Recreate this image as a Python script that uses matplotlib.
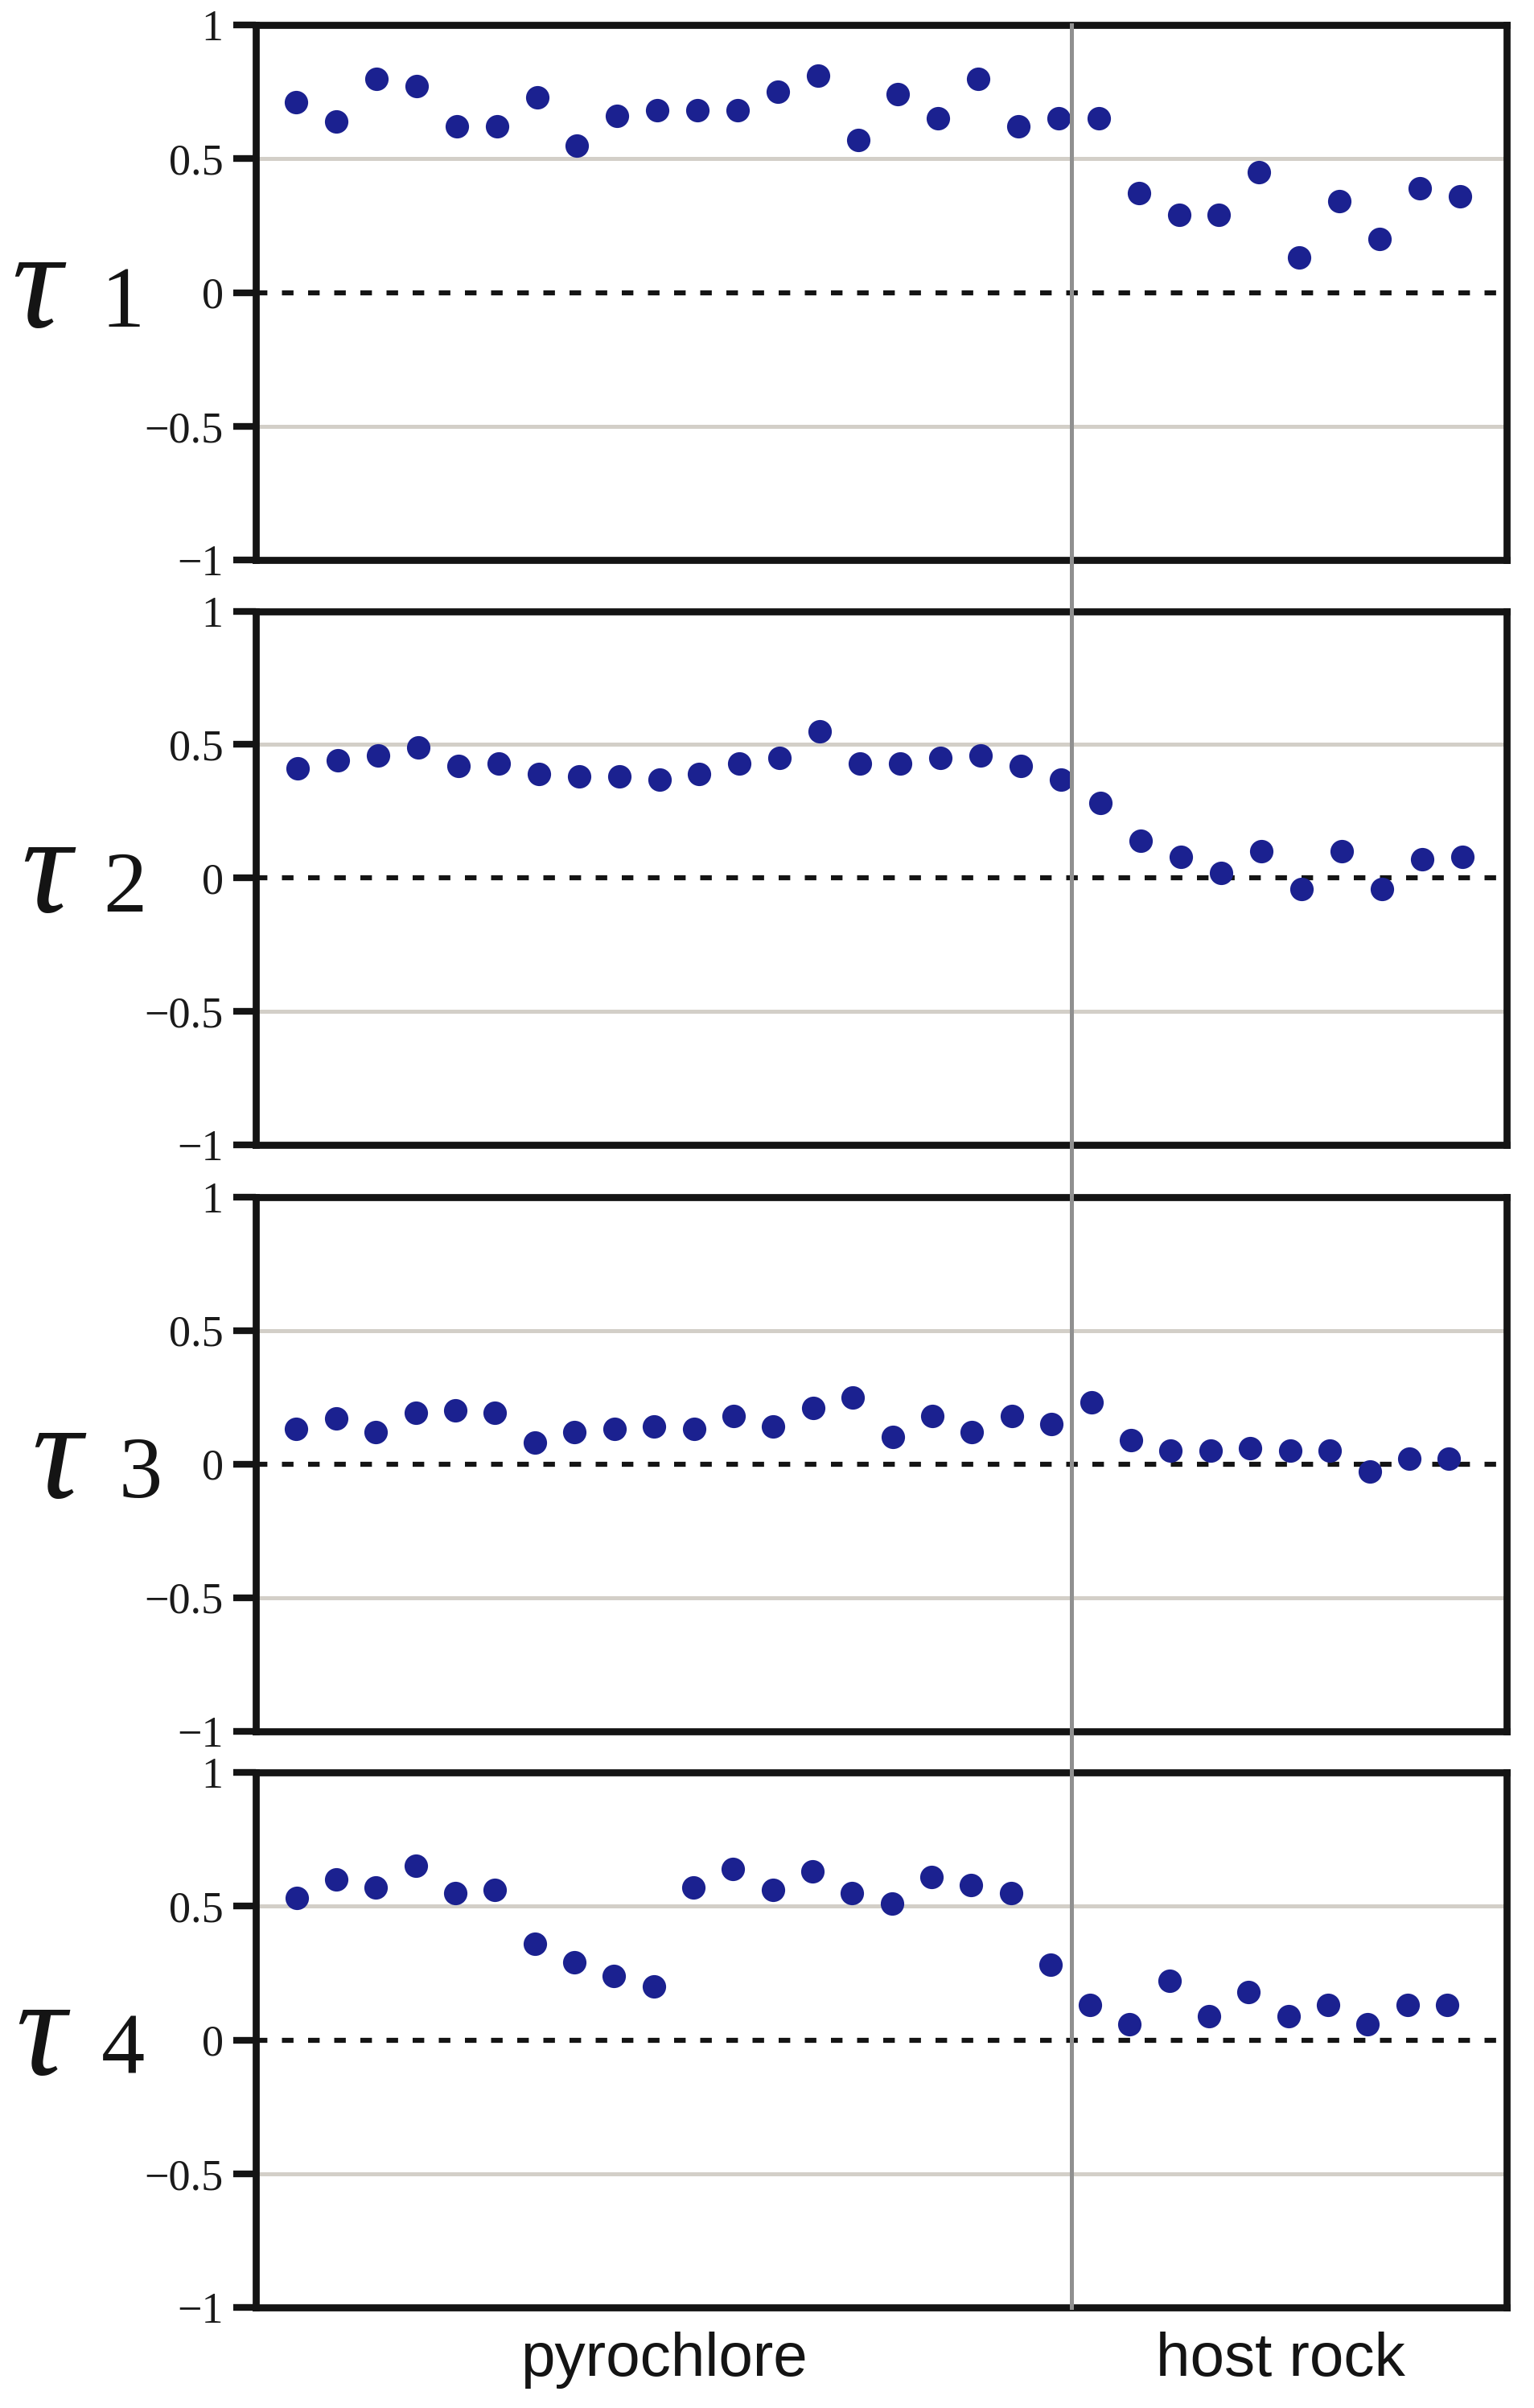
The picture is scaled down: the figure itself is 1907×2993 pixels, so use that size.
import numpy as np
import matplotlib.pyplot as plt
from matplotlib.lines import Line2D
import matplotlib.transforms as mtransforms

# data
sample_no = np.arange(1, 31)
tau1 = [0.71, 0.64, 0.80, 0.77, 0.62, 0.62, 0.73, 0.55, 0.66, 0.68,
        0.68, 0.68, 0.75, 0.81, 0.57, 0.74, 0.65, 0.80, 0.62, 0.65,
        0.65, 0.37, 0.29, 0.29, 0.45, 0.13, 0.34, 0.20, 0.39, 0.36]
tau2 = [0.41, 0.44, 0.46, 0.49, 0.42, 0.43, 0.39, 0.38, 0.38, 0.37,
        0.39, 0.43, 0.45, 0.55, 0.43, 0.43, 0.45, 0.46, 0.42, 0.37,
        0.28, 0.14, 0.08, 0.02, 0.10, -0.04, 0.10, -0.04, 0.07, 0.08]
tau3 = [0.13, 0.17, 0.12, 0.19, 0.20, 0.19, 0.08, 0.12, 0.13, 0.14,
        0.13, 0.18, 0.14, 0.21, 0.25, 0.10, 0.18, 0.12, 0.18, 0.15,
        0.23, 0.09, 0.05, 0.05, 0.06, 0.05, 0.05, -0.03, 0.02, 0.02]
tau4 = [0.53, 0.60, 0.57, 0.65, 0.55, 0.56, 0.36, 0.29, 0.24, 0.20,
        0.57, 0.64, 0.56, 0.63, 0.55, 0.51, 0.61, 0.58, 0.55, 0.28,
        0.13, 0.06, 0.22, 0.09, 0.18, 0.09, 0.13, 0.06, 0.13, 0.13]
series = [tau1, tau2, tau3, tau4]
panel_names = ["1", "2", "3", "4"]
boundary_x = 20.32   # pyrochlore / host rock
yticks = [-1, -0.5, 0, 0.5, 1]
ytick_labels = ["\u22121", "\u22120.5", "0", "0.5", "1"]
group_labels = ["pyrochlore", "host rock"]

dot_color = "#1b2190"
grid_color = "#d3cfc8"
line_gray = "#909090"

plt.rcParams['font.family'] = ['Liberation Serif', 'DejaVu Serif']
plt.rcParams['axes.linewidth'] = 6.3

W, H = 1907, 2993
fig = plt.figure(figsize=(W / 100, H / 100), dpi=100)

# panel boxes in pixels (top, bottom) and x limits
boxes = [(31, 696), (759.5, 1423), (1487.5, 2151.5), (2203, 2868)]
xlims = [(-0.01, 31.17), (-0.05, 31.11), (-0.02, 31.45), (-0.03, 31.5)]
left_px, right_px = 318, 1873

tau_x = [45, 57, 70, 50]
num_x = [153, 155, 175, 153]

axes = []
for i, (top, bot) in enumerate(boxes):
    ax = fig.add_axes([left_px / W, 1 - bot / H, (right_px - left_px) / W, (bot - top) / H])
    axes.append(ax)
    ax.axhline(0.5, color=grid_color, lw=3.6, zorder=1)
    ax.axhline(-0.5, color=grid_color, lw=3.6, zorder=1)
    ax.axhline(0, color="#141414", lw=4.5, dashes=(2.3, 2.9), zorder=2)
    ax.plot(sample_no, series[i], 'o', color=dot_color, ms=21, mec='none', zorder=4)

    ax.set_xlim(*xlims[i])
    ax.set_ylim(-1, 1)
    ax.set_xticks([])
    ax.set_yticks(yticks)
    ax.set_yticklabels(ytick_labels)
    ax.tick_params(axis='y', direction='out', length=20, width=6, pad=9,
                   labelsize=39, color="#141414", labelcolor="#1a1a1a")
    for sp in ax.spines.values():
        sp.set_color("#141414")
        sp.set_zorder(5)

    # panel label
    y_base = 1 - (bot + top) / 2 / H - 42 / H
    fig.text(tau_x[i] / W, y_base, "\u03c4", style='italic', fontsize=125,
             ha='center', va='baseline', color="#141414")
    fig.text(num_x[i] / W, y_base, panel_names[i], fontsize=78,
             ha='center', va='baseline', color="#141414")

# boundary line through all panels
trans = mtransforms.blended_transform_factory(axes[0].transData, fig.transFigure)
fig.add_artist(Line2D([boundary_x, boundary_x], [1 - boxes[0][0] / H, 1 - boxes[3][1] / H],
                      transform=trans, color=line_gray, lw=3.6, zorder=3))

# group labels
fig.text(825 / W, 1 - 2953 / H, group_labels[0], family='Liberation Sans',
         fontsize=55, ha='center', va='baseline', color="#141414")
fig.text(1592 / W, 1 - 2953 / H, group_labels[1], family='Liberation Sans',
         fontsize=55, ha='center', va='baseline', color="#141414")

plt.savefig("out.png", dpi=100)
